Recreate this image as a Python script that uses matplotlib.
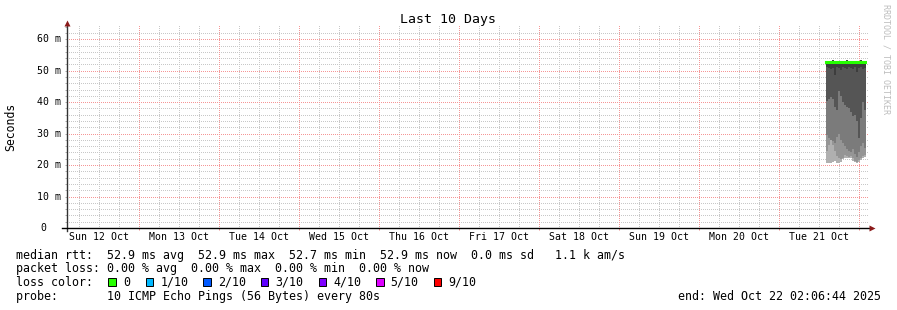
import numpy as np
import matplotlib
matplotlib.use("Agg")
import matplotlib.pyplot as plt
import matplotlib.transforms as mtransforms
from matplotlib.lines import Line2D
from matplotlib.patches import Rectangle

# =========================
# data (ms), one value per 36 min step, hours counted from Sun 12 Oct 00:00
# =========================
t_start = 230.3
t_step = 0.6

ping1 = [20.6, 20.6, 20.6, 20.9, 21.3, 20.6, 20.6, 21.0, 21.8, 22.4,
         22.4, 22.2, 22.4, 21.4, 20.9, 20.6, 21.0, 21.6, 22.3, 22.6]
ping2 = [24.5, 26.5, 28.0, 26.5, 24.5, 23.0, 22.2, 21.8, 22.3, 23.2,
         22.8, 22.6, 22.8, 22.2, 21.4, 21.0, 21.6, 22.2, 23.0, 23.2]
ping3 = [29.5, 28.5, 28.0, 27.5, 27.0, 29.0, 30.0, 28.0, 27.0, 26.0,
         25.0, 24.5, 24.0, 25.0, 23.5, 22.5, 24.0, 26.0, 27.0, 25.5]
ping4 = [40.5, 41.0, 41.5, 41.0, 38.5, 37.5, 43.5, 42.0, 40.0, 39.0,
         38.5, 38.0, 37.0, 35.5, 36.0, 34.0, 28.5, 35.0, 40.0, 37.5]
ping5 = [51.2, 51.0, 50.6, 51.0, 48.5, 51.2, 51.0, 50.2, 51.2, 51.0,
         50.4, 51.2, 51.0, 50.6, 51.2, 49.5, 51.0, 51.2, 50.4, 51.0]
ping_top = [53.1, 53.2, 53.0, 53.3, 53.1, 53.2, 53.1, 53.0, 53.2, 53.1,
            53.3, 53.1, 53.2, 53.0, 53.1, 53.2, 53.1, 53.3, 53.1, 53.2]
median = [52.9, 52.9, 52.9, 52.9, 52.9, 52.9, 52.9, 52.9, 52.7, 52.9,
          52.9, 52.9, 52.9, 52.9, 52.9, 52.9, 52.9, 52.9, 52.9, 52.9]

day_labels = ["Sun 12 Oct", "Mon 13 Oct", "Tue 14 Oct", "Wed 15 Oct", "Thu 16 Oct",
              "Fri 17 Oct", "Sat 18 Oct", "Sun 19 Oct", "Mon 20 Oct", "Tue 21 Oct"]
y_values = [0, 10, 20, 30, 40, 50, 60]

loss_labels = ["0", "1/10", "2/10", "3/10", "4/10", "5/10", "9/10"]
loss_colors = ["#26ff00", "#00b8ff", "#0059ff", "#5e00ff", "#7e00ff", "#dd00ff", "#ff0000"]
smoke_colors = ["#b0b0b0", "#959595", "#7b7b7b", "#555555", "#3d3d3d"]

# =========================
# figure
# =========================
W, H = 897, 310
MONO = "DejaVu Sans Mono"
XMIN, XMAX, YMAX = 2.5, 242.5, 64.2
AX_L, AX_R, AX_T, AX_B = 67, 867, 26, 228   # plot box in pixels


def fx(x):
    return x / W


def fy(y):
    return 1 - y / H


fig = plt.figure(figsize=(W / 100, H / 100), dpi=100)
ax = fig.add_axes([fx(AX_L), fy(AX_B), (AX_R - AX_L) / W, (AX_B - AX_T) / H])
ax.set_xlim(XMIN, XMAX)
ax.set_ylim(0, YMAX)
ax.patch.set_alpha(0)
for s in ax.spines.values():
    s.set_visible(False)

# smoke
edges = t_start + t_step * np.arange(len(median) + 1)
levels = [ping1, ping2, ping3, ping4, ping5, ping_top]
for lo, hi, c in zip(levels[:-1], levels[1:], smoke_colors):
    ax.fill_between(edges, lo + [lo[-1]], hi + [hi[-1]], step="post",
                    color=c, lw=0, zorder=1)
ax.plot(edges, median + [median[-1]], drawstyle="steps-post",
        color=loss_colors[0], lw=2.2, zorder=4)

# dotted grid drawn as an opaque pixel background (1px on / 1px off)
grid_img = np.full((H, W, 3), 255, dtype=np.uint8)
minor_rgb = (200, 200, 200)
major_rgb = (245, 150, 150)
rows, cols = [], []
for y in range(2, 64, 2):
    row = int(round(H - ax.transData.transform((XMIN, y))[1]))
    rows.append((row, y % 10 == 0))
for h in range(6, 243, 6):
    col = int(round(ax.transData.transform((h, 0))[0]))
    cols.append((col, h % 24 == 0))
for major in (False, True):
    c = major_rgb if major else minor_rgb
    for row, m in rows:
        if m == major:
            grid_img[row, AX_L:AX_R + 1:2] = c
    for col, m in cols:
        if m == major:
            grid_img[AX_T:AX_B:2, col] = c
fig.figimage(grid_img, 0, 0, origin="upper", zorder=-1, interpolation="nearest")

# ticks
noons = [12 + 24 * i for i in range(len(day_labels))]
ax.set_xticks(noons, day_labels, family=MONO, fontsize=7.1)
ax.set_xticks([24 * i for i in range(1, 11)], minor=True)
ax.tick_params(axis="x", which="major", length=0, pad=3)
ax.tick_params(axis="x", which="minor", length=1.6, width=0.72, color="#f09090")
ax.set_yticks(range(0, 65, 2), [])
ax.tick_params(axis="y", which="major", length=1.6, width=0.5, color="#888888")

ylab_tf = mtransforms.blended_transform_factory(fig.transFigure, ax.transData)
for v in y_values:
    lab = f"{v} m" if v else "0"
    fig.text(fx(60.5 if v else 46.5), v, lab, transform=ylab_tf, ha="right",
             va="center", family=MONO, fontsize=7.1)

# axis lines with arrows
fig.add_artist(Line2D([fx(67), fx(67)], [fy(231), fy(24)], color="#333333", lw=1.0, zorder=6))
fig.add_artist(Line2D([fx(67)], [fy(22.5)], marker="^", ms=5, color="#8b1a1a", mec="none", zorder=6))
fig.add_artist(Line2D([fx(62), fx(870)], [fy(228), fy(228)], color="black", lw=1.0, zorder=6))
fig.add_artist(Line2D([fx(871.5)], [fy(228)], marker=">", ms=5, color="#8b1a1a", mec="none", zorder=6))

# titles
fig.text(fx(448), fy(20), "Last 10 Days", ha="center", va="center", family=MONO, fontsize=9.5)
fig.text(fx(11), fy(127), "Seconds", rotation=90, ha="center", va="center",
         family=MONO, fontsize=8.3)
fig.text(fx(886), fy(4), "RRDTOOL / TOBI OETIKER", rotation=270, ha="center", va="top",
         family=MONO, fontsize=6, color="#bdbdbd")

# legend
LEG = 8.34
fig.text(fx(16), fy(255), "median rtt:  52.9 ms avg  52.9 ms max  52.7 ms min  52.9 ms now"
         "  0.0 ms sd   1.1 k am/s", va="center", family=MONO, fontsize=LEG)
fig.text(fx(16), fy(268.5), "packet loss: 0.00 % avg  0.00 % max  0.00 % min  0.00 % now",
         va="center", family=MONO, fontsize=LEG)
fig.text(fx(16), fy(282), "loss color:", va="center", family=MONO, fontsize=LEG)
sq_x = [108.3] + [145.7 + 57.6 * k for k in range(len(loss_labels) - 1)]
for x, lab, c in zip(sq_x, loss_labels, loss_colors):
    fig.add_artist(Rectangle((fx(x), fy(285.7)), 7.4 / W, 7.4 / H, facecolor=c,
                             edgecolor="black", lw=0.7, transform=fig.transFigure))
    fig.text(fx(x + 14.5), fy(282), lab, va="center", family=MONO, fontsize=LEG)
fig.text(fx(16), fy(296.5), "probe:       10 ICMP Echo Pings (56 Bytes) every 80s",
         va="center", family=MONO, fontsize=LEG)
fig.text(fx(881), fy(296.5), "end: Wed Oct 22 02:06:44 2025", ha="right", va="center",
         family=MONO, fontsize=LEG)

fig.savefig("out.png", dpi=100)
